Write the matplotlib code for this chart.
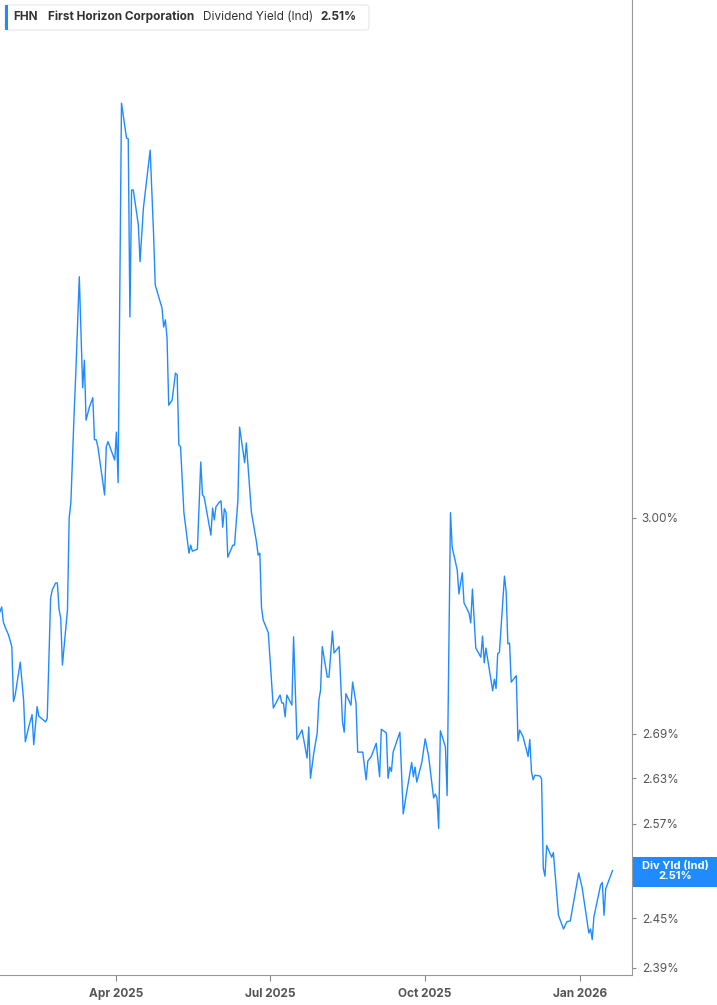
import matplotlib
matplotlib.use("Agg")
import matplotlib.pyplot as plt
import matplotlib.dates as mdates
from matplotlib.patches import FancyBboxPatch, Rectangle
from matplotlib.ticker import FixedLocator, NullLocator, FuncFormatter
import numpy as np
import pandas as pd

# dividend yield (indicated), %
dates = [
    "2025-01-22", "2025-01-23", "2025-01-24", "2025-01-25", "2025-01-27", "2025-01-29", "2025-01-30",
    "2025-01-31", "2025-02-03", "2025-02-05", "2025-02-06", "2025-02-08", "2025-02-10", "2025-02-11",
    "2025-02-13", "2025-02-14", "2025-02-18", "2025-02-19", "2025-02-21", "2025-02-22", "2025-02-24",
    "2025-02-25", "2025-02-26", "2025-02-27", "2025-02-28", "2025-03-03", "2025-03-04", "2025-03-05",
    "2025-03-07", "2025-03-08", "2025-03-10", "2025-03-12", "2025-03-13", "2025-03-14", "2025-03-16",
    "2025-03-18", "2025-03-19", "2025-03-20", "2025-03-21", "2025-03-25", "2025-03-26", "2025-03-27",
    "2025-03-31", "2025-04-01", "2025-04-02", "2025-04-04", "2025-04-07", "2025-04-08", "2025-04-09",
    "2025-04-10", "2025-04-11", "2025-04-14", "2025-04-15", "2025-04-17", "2025-04-21", "2025-04-23",
    "2025-04-24", "2025-04-28", "2025-04-29", "2025-04-30", "2025-05-01", "2025-05-02", "2025-05-04",
    "2025-05-06", "2025-05-07", "2025-05-08", "2025-05-09", "2025-05-11", "2025-05-14", "2025-05-15",
    "2025-05-16", "2025-05-19", "2025-05-21", "2025-05-22", "2025-05-23", "2025-05-27", "2025-05-28",
    "2025-05-29", "2025-05-30", "2025-06-01", "2025-06-02", "2025-06-03", "2025-06-04", "2025-06-05",
    "2025-06-06", "2025-06-09", "2025-06-10", "2025-06-12", "2025-06-13", "2025-06-16", "2025-06-17",
    "2025-06-20", "2025-06-23", "2025-06-24", "2025-06-25", "2025-06-26", "2025-06-27", "2025-06-30",
    "2025-07-03", "2025-07-07", "2025-07-08", "2025-07-09", "2025-07-10", "2025-07-11", "2025-07-14",
    "2025-07-15", "2025-07-17", "2025-07-20", "2025-07-23", "2025-07-24", "2025-07-25", "2025-07-27",
    "2025-07-29", "2025-07-30", "2025-07-31", "2025-08-01", "2025-08-04", "2025-08-05", "2025-08-07",
    "2025-08-08", "2025-08-11", "2025-08-13", "2025-08-14", "2025-08-15", "2025-08-18", "2025-08-19",
    "2025-08-21", "2025-08-22", "2025-08-25", "2025-08-27", "2025-08-28", "2025-08-30", "2025-09-02",
    "2025-09-04", "2025-09-05", "2025-09-08", "2025-09-09", "2025-09-10", "2025-09-11", "2025-09-12",
    "2025-09-16", "2025-09-18", "2025-09-20", "2025-09-23", "2025-09-24", "2025-09-25", "2025-09-26",
    "2025-09-29", "2025-10-01", "2025-10-03", "2025-10-06", "2025-10-07", "2025-10-08", "2025-10-09",
    "2025-10-10", "2025-10-13", "2025-10-14", "2025-10-16", "2025-10-17", "2025-10-20", "2025-10-21",
    "2025-10-23", "2025-10-24", "2025-10-27", "2025-10-28", "2025-10-29", "2025-10-31", "2025-11-03",
    "2025-11-04", "2025-11-05", "2025-11-06", "2025-11-10", "2025-11-11", "2025-11-12", "2025-11-13",
    "2025-11-14", "2025-11-17", "2025-11-18", "2025-11-19", "2025-11-20", "2025-11-21", "2025-11-24",
    "2025-11-25", "2025-11-26", "2025-11-28", "2025-12-01", "2025-12-02", "2025-12-03", "2025-12-04",
    "2025-12-05", "2025-12-08", "2025-12-09", "2025-12-10", "2025-12-11", "2025-12-12", "2025-12-15",
    "2025-12-16", "2025-12-19", "2025-12-22", "2025-12-24", "2025-12-26", "2025-12-31", "2026-01-02",
    "2026-01-06", "2026-01-07", "2026-01-08", "2026-01-09", "2026-01-13", "2026-01-14", "2026-01-15",
    "2026-01-16", "2026-01-20",
]
div_yield = [
    2.861, 2.868, 2.846, 2.839, 2.828, 2.811, 2.734,
    2.743, 2.789, 2.736, 2.679, 2.699, 2.716, 2.675,
    2.727, 2.714, 2.706, 2.711, 2.881, 2.893, 2.903,
    2.903, 2.864, 2.852, 2.785, 2.864, 3.000, 3.023,
    3.168, 3.233, 3.389, 3.204, 3.249, 3.152, 3.173,
    3.188, 3.121, 3.121, 3.110, 3.035, 3.110, 3.118,
    3.089, 3.133, 3.054, 3.700, 3.635, 3.634, 3.321,
    3.541, 3.541, 3.479, 3.415, 3.509, 3.613, 3.465,
    3.375, 3.336, 3.304, 3.316, 3.286, 3.176, 3.184,
    3.228, 3.225, 3.113, 3.110, 3.008, 2.947, 2.959,
    2.950, 2.953, 3.086, 3.035, 3.032, 2.974, 3.015,
    2.997, 3.017, 3.024, 3.026, 2.986, 3.014, 3.008,
    2.941, 2.959, 2.959, 3.027, 3.141, 3.085, 3.116,
    3.009, 2.964, 2.944, 2.947, 2.867, 2.849, 2.831,
    2.725, 2.743, 2.732, 2.732, 2.713, 2.743, 2.729,
    2.825, 2.682, 2.695, 2.657, 2.699, 2.630, 2.664,
    2.691, 2.736, 2.750, 2.811, 2.768, 2.768, 2.833,
    2.802, 2.811, 2.706, 2.692, 2.745, 2.729, 2.761,
    2.732, 2.665, 2.665, 2.628, 2.653, 2.659, 2.677,
    2.632, 2.696, 2.691, 2.630, 2.645, 2.639, 2.665,
    2.692, 2.583, 2.611, 2.651, 2.632, 2.645, 2.625,
    2.651, 2.683, 2.660, 2.604, 2.609, 2.604, 2.564,
    2.694, 2.672, 2.607, 3.008, 2.956, 2.922, 2.887,
    2.918, 2.874, 2.859, 2.845, 2.894, 2.809, 2.796,
    2.826, 2.788, 2.809, 2.749, 2.765, 2.752, 2.801,
    2.803, 2.913, 2.890, 2.815, 2.816, 2.761, 2.770,
    2.680, 2.695, 2.686, 2.659, 2.682, 2.639, 2.628,
    2.634, 2.633, 2.629, 2.513, 2.503, 2.542, 2.527,
    2.533, 2.454, 2.437, 2.446, 2.447, 2.507, 2.489,
    2.432, 2.437, 2.424, 2.452, 2.492, 2.495, 2.454,
    2.487, 2.510,
]

ticker = "FHN"
company = "First Horizon Corporation"
metric = "Dividend Yield (Ind)"
last_label = "2.51%"
y_ticks = [2.39, 2.45, 2.57, 2.63, 2.69, 3.00]

x = pd.to_datetime(dates)
blue = "#1f8bff"
grey = "#555555"

plt.rcParams["font.family"] = ["Inter", "DejaVu Sans"]

W, H = 717, 1005
fig = plt.figure(figsize=(W / 100, H / 100), dpi=100)
ax = fig.add_axes([0, 30 / H, 632 / W, 1 - 30 / H])

ax.plot(x, div_yield, color=blue, linewidth=1.0)

ax.set_yscale("log")
ax.set_ylim(2.381, 3.898)
ax.set_xlim(pd.Timestamp("2025-01-22"), pd.Timestamp("2026-01-31 14:00"))

ax.yaxis.tick_right()
ax.yaxis.set_major_locator(FixedLocator(y_ticks))
ax.yaxis.set_minor_locator(NullLocator())
ax.yaxis.set_major_formatter(FuncFormatter(lambda v, p: f"{v:.2f}%"))
ax.tick_params(axis="y", length=3, width=0.8, color="#888888", labelcolor=grey,
               labelsize=8.5, pad=4)

ax.xaxis.set_major_locator(mdates.MonthLocator(bymonth=[1, 4, 7, 10]))
ax.xaxis.set_major_formatter(mdates.DateFormatter("%b %Y"))
ax.xaxis.set_minor_locator(NullLocator())
ax.tick_params(axis="x", length=4, width=0.8, color="#888888", labelcolor=grey,
               labelsize=8.5, pad=5)
for lab in ax.get_xticklabels():
    lab.set_fontweight("bold")

for s in ["top", "left"]:
    ax.spines[s].set_visible(False)
for s in ["right", "bottom"]:
    ax.spines[s].set_color("#999999")
    ax.spines[s].set_linewidth(0.8)

# last value flag on the right axis
fig.patches.append(Rectangle((633 / W, (H - 887) / H), 84 / W, 30 / H,
                             transform=fig.transFigure, facecolor=blue,
                             edgecolor="none", zorder=-1))
ax.annotate("Div Yld (Ind)\n" + last_label, xy=(1.0, div_yield[-1]),
            xycoords=("axes fraction", "data"), xytext=(675, 0),
            textcoords=("figure pixels", "offset points"),
            ha="center", va="center", color="white", fontsize=8, fontweight="bold",
            linespacing=1.0, annotation_clip=False, zorder=10)

# header box
fig.patches.append(FancyBboxPatch((5 / W, (H - 30) / H), 364 / W, 25 / H,
                                  boxstyle="round,pad=0,rounding_size=0.004",
                                  transform=fig.transFigure, facecolor="white",
                                  edgecolor="#e6e6e6", linewidth=0.8, zorder=3))
fig.patches.append(Rectangle((5 / W, (H - 30) / H), 3 / W, 25 / H,
                             transform=fig.transFigure, facecolor=blue,
                             edgecolor="none", zorder=4))
yh = (H - 17) / H
fig.text(13 / W, yh, ticker, fontsize=8.5, fontweight="bold", color="#333333", va="center", zorder=5)
fig.text(48 / W, yh, company, fontsize=8.5, fontweight="bold", color="#333333", va="center", zorder=5)
fig.text(203 / W, yh, metric, fontsize=8.5, color="#333333", va="center", zorder=5)
fig.text(320 / W, yh, last_label, fontsize=8.5, fontweight="bold", color="#333333", va="center", zorder=5)

fig.savefig("out.png", dpi=100, facecolor="white")
